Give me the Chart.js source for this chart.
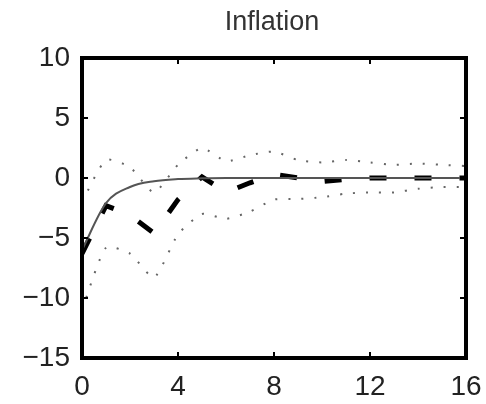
<!DOCTYPE html>
<html>
<head>
<meta charset="utf-8">
<script src="https://cdn.jsdelivr.net/npm/chart.js@4/dist/chart.umd.min.js"></script>
<style>
  body { margin: 0; background: #fff; }
  canvas { display: block; }
</style>
</head>
<body>
<canvas id="inflationChart" width="486" height="404"></canvas>
<script>
const periods = [0, 1, 2, 3, 4, 5, 6, 7, 8, 9, 10, 11, 12, 13, 14, 15, 16];
const modelIrf = [-6.0, -2.1, -0.75, -0.27, -0.09, -0.03, 0, 0, 0, 0, 0, 0, 0, 0, 0, 0, 0];
const dataIrf = [-6.3, -2.3, -3.1, -4.6, -1.8, 0.1, -1.2, -0.4, 0.3, 0.0, -0.3, -0.1, 0, 0, 0, 0, 0];
const upperBand = [-2.0, 1.5, 0.9, -1.2, 1.1, 2.5, 1.4, 1.9, 2.2, 1.5, 1.3, 1.5, 1.3, 1.1, 1.2, 1.1, 1.0];
const lowerBand = [-11.0, -5.8, -6.3, -8.3, -4.7, -3.0, -3.4, -2.8, -1.8, -1.75, -1.6, -1.3, -1.2, -1.2, -0.9, -0.75, -0.75];
const xTicks = [0, 4, 8, 12, 16];
const yTicks = [-15, -10, -5, 0, 5, 10];
const titleText = "Inflation";

const toPoints = vals => periods.map((p, i) => ({ x: p, y: vals[i] }));

// box round the plot with small inward ticks on every side, title centred over the plot
const frame = {
    id: "frame",
    afterDraw(chart) {
        const { ctx, chartArea: a, scales: { x, y } } = chart;
        ctx.save();
        ctx.strokeStyle = "#000";
        ctx.lineWidth = 2;
        ctx.beginPath();
        xTicks.forEach(v => {
            const px = x.getPixelForValue(v);
            ctx.moveTo(px, a.top); ctx.lineTo(px, a.top + 6);
            ctx.moveTo(px, a.bottom); ctx.lineTo(px, a.bottom - 6);
        });
        yTicks.forEach(v => {
            const py = y.getPixelForValue(v);
            ctx.moveTo(a.left, py); ctx.lineTo(a.left + 6, py);
            ctx.moveTo(a.right, py); ctx.lineTo(a.right - 6, py);
        });
        ctx.stroke();
        ctx.lineWidth = 4;
        ctx.strokeRect(a.left, a.top, a.right - a.left, a.bottom - a.top);

        ctx.fillStyle = "#333";
        ctx.font = "27px 'Liberation Sans', Arial, sans-serif";
        ctx.textAlign = "center";
        ctx.textBaseline = "middle";
        ctx.fillText(titleText, (a.left + a.right) / 2 - 2, 23);
        ctx.restore();
    }
};

const dotted = { borderColor: "#666", borderWidth: 2, borderDash: [2, 11], pointRadius: 0, tension: 0.2, fill: false };

new Chart(document.getElementById("inflationChart"), {
    type: "line",
    data: {
        datasets: [
            { label: "upper", data: toPoints(upperBand), ...dotted },
            { label: "lower", data: toPoints(lowerBand), ...dotted },
            {
                label: "model",
                data: toPoints(modelIrf),
                borderColor: "#555",
                borderWidth: 2,
                pointRadius: 0,
                cubicInterpolationMode: "monotone"
            },
            {
                label: "data",
                data: toPoints(dataIrf),
                borderColor: "#000",
                borderWidth: 5,
                borderDash: [17, 28],
                borderCapStyle: "butt",
                pointRadius: 0,
                tension: 0
            }
        ]
    },
    options: {
        responsive: false,
        animation: false,
        layout: { padding: { top: 58, right: 0, bottom: 0, left: 0 } },
        plugins: {
            legend: { display: false },
            tooltip: { enabled: false },
            title: { display: false }
        },
        scales: {
            x: {
                type: "linear",
                min: 0,
                max: 16,
                afterBuildTicks: s => { s.ticks = xTicks.map(v => ({ value: v })); },
                afterFit: s => { s.height = 46; s.paddingLeft = 0; s.paddingRight = 20; },
                grid: { display: false, drawTicks: false },
                border: { display: false },
                ticks: {
                    color: "#222",
                    padding: 12,
                    maxRotation: 0,
                    font: { family: "Liberation Sans, Arial, sans-serif", size: 28 }
                }
            },
            y: {
                min: -15,
                max: 10,
                afterBuildTicks: s => { s.ticks = yTicks.map(v => ({ value: v })); },
                afterFit: s => { s.width = 82; s.paddingTop = 0; s.paddingBottom = 0; },
                grid: { display: false, drawTicks: false },
                border: { display: false },
                ticks: {
                    color: "#222",
                    padding: 12,
                    font: { family: "Liberation Sans, Arial, sans-serif", size: 28 },
                    callback: v => String(v).replace("-", "\u2212")
                }
            }
        }
    },
    plugins: [frame]
});
</script>
</body>
</html>
